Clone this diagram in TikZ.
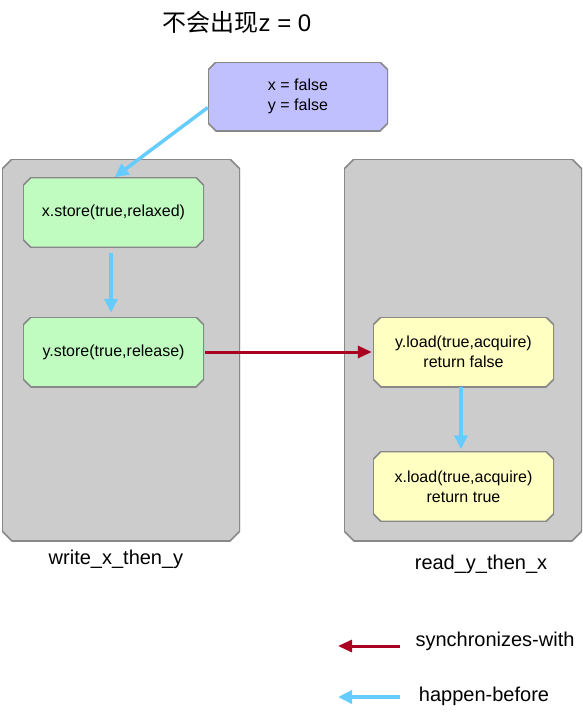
\documentclass[tikz,border=0pt]{standalone}
\usepackage{fontspec}
\setmainfont{Liberation Sans}
\newfontfamily\cjkfont{Noto Sans CJK SC}
\usetikzlibrary{arrows.meta}

\definecolor{boxline}{HTML}{888888}
\definecolor{lanegray}{HTML}{CCCCCC}
\definecolor{initblue}{HTML}{C0C0FF}
\definecolor{storegreen}{HTML}{C0FBC0}
\definecolor{loadyellow}{HTML}{FFFFC2}
\definecolor{hbblue}{HTML}{66CCFF}
\definecolor{swred}{HTML}{AA0022}

\tikzset{
  % caja con esquinas cortadas: color de relleno y corte
  chamferbox/.style 2 args={rectangle, inner sep=0pt,
    path picture={\draw[fill=#1, draw=boxline, line width=1.6pt]
      ([xshift=#2]path picture bounding box.north west) --
      ([xshift=-#2]path picture bounding box.north east) --
      ([yshift=-#2]path picture bounding box.north east) --
      ([yshift=#2]path picture bounding box.south east) --
      ([xshift=-#2]path picture bounding box.south east) --
      ([xshift=#2]path picture bounding box.south west) --
      ([yshift=#2]path picture bounding box.south west) --
      ([yshift=-#2]path picture bounding box.north west) -- cycle;}},
  lane/.style={chamferbox={lanegray}{10pt}, minimum width=238pt, minimum height=382pt},
  opbox/.style={chamferbox={#1}{8pt}, minimum width=181pt, minimum height=70pt,
    align=center, font=\fontsize{16}{20}\selectfont},
  lanelabel/.style={font=\fontsize{20}{24}\selectfont},
  hb/.style={draw=hbblue, line width=3.5pt, -{Triangle[length=14pt,width=13pt]}},
  sw/.style={draw=swred, line width=3pt, -{Triangle[length=14pt,width=12pt]}}
}

\begin{document}
\begin{tikzpicture}[x=1pt,y=-1pt]
\useasboundingbox (0,0) rectangle (583,715);

% titulo
\node at (237,22) (title) {\fontsize{24}{28}\selectfont\cjkfont 不会出现\rmfamily z = 0};

% valores iniciales
\node[opbox=initblue, minimum width=180pt, minimum height=69pt] at (298,96.5) (init) {x = false\\y = false};

% hilos
\node[lane] at (121,350) (writer) {};
\node[lane] at (463,350) (reader) {};
\node[lanelabel] at (116,559) (wlabel) {write\_x\_then\_y};
\node[lanelabel] at (481,564) (rlabel) {read\_y\_then\_x};

% operaciones escritura
\node[opbox=storegreen] at (113.5,212.5) (xst) {x.store(true,relaxed)};
\node[opbox=storegreen] at (113.5,352) (yst) {y.store(true,release)};

% operaciones lectura
\node[opbox=loadyellow] at (463.5,352) (yld) {y.load(true,acquire)\\return false};
\node[opbox=loadyellow] at (463.5,486.5) (xld) {x.load(true,acquire)\\return true};

% flechas
\draw[hb] ([yshift=-11pt]init.west) -- ([xshift=1pt]xst.north);
\draw[hb, shorten <=5pt, shorten >=4pt] ([xshift=-2.5pt]xst.south) -- ([xshift=-2.5pt]yst.north);
\draw[sw, shorten <=1pt, shorten >=1pt] (yst.east) -- (yld.west);
\draw[hb, shorten >=2pt] ([xshift=-2.5pt]yld.south) -- ([xshift=-2.5pt]xld.north);

% leyenda
\coordinate (swfrom) at (400,646);
\coordinate (swto) at (338,646);
\coordinate (hbfrom) at (400,697);
\coordinate (hbto) at (338,697);
\draw[sw] (swfrom) -- (swto);
\draw[hb] (hbfrom) -- (hbto);
\node[lanelabel] at (495,641) (swtext) {synchronizes-with};
\node[lanelabel] at (484,696) (hbtext) {happen-before};

\end{tikzpicture}
\end{document}
